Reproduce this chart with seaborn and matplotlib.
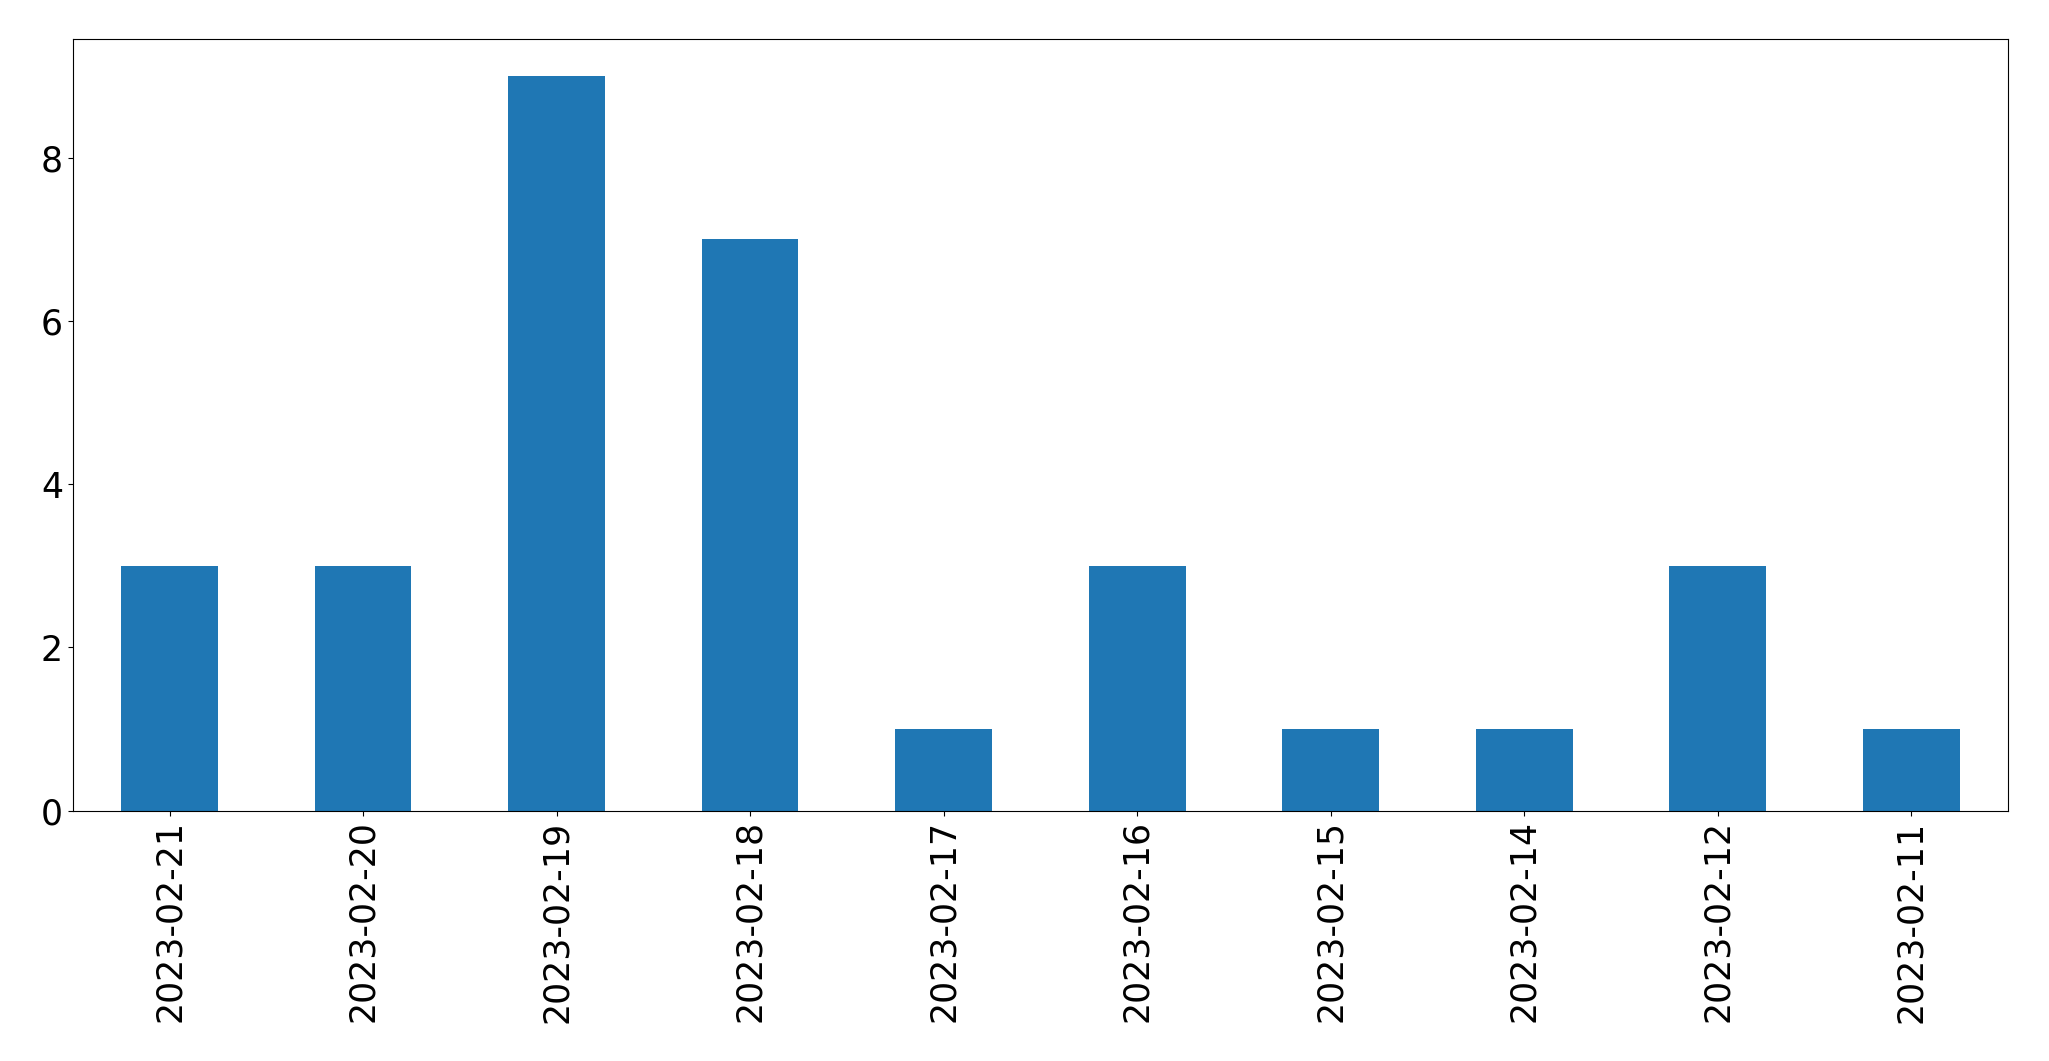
import matplotlib
matplotlib.use("Agg")
import matplotlib.pyplot as plt
import seaborn as sns
import pandas as pd

dates = ["2023-02-21", "2023-02-20", "2023-02-19", "2023-02-18", "2023-02-17",
         "2023-02-16", "2023-02-15", "2023-02-14", "2023-02-12", "2023-02-11"]
counts = [3, 3, 9, 7, 1, 3, 1, 1, 3, 1]

df = pd.DataFrame({"date": dates, "count": counts})

fig, ax = plt.subplots(figsize=(20.49, 10.61), dpi=100)
fig.subplots_adjust(left=0.0355, right=0.98, top=0.963, bottom=0.236)
sns.barplot(data=df, x="date", y="count", order=dates, color="#1f77b4",
            saturation=1, width=0.5, linewidth=0, ax=ax)
ax.set_xlim(-0.5, len(dates) - 0.5)
ax.set_ylim(0, max(counts) * 1.05)
ax.set_xlabel("")
ax.set_ylabel("")
ax.tick_params(axis="both", labelsize=25)
plt.setp(ax.get_xticklabels(), rotation=90)
fig.savefig("out.png", dpi=100)
